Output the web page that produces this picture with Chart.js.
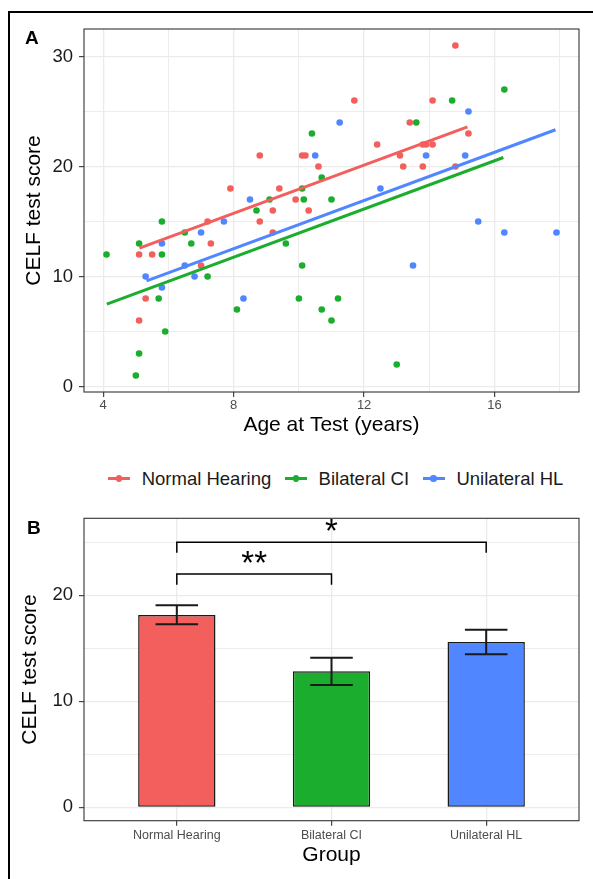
<!DOCTYPE html>
<html><head><meta charset="utf-8">
<script src="https://cdn.jsdelivr.net/npm/chart.js@4"></script>
<style>
html,body{margin:0;padding:0;background:#fff;}
body{width:593px;height:879px;position:relative;overflow:hidden;font-family:"Liberation Sans",Arial,Helvetica,sans-serif;}
#wrapA{position:absolute;left:0;top:0;width:593px;height:450px;}
#wrapB{position:absolute;left:0;top:500px;width:593px;height:379px;}
#frame{position:absolute;left:8px;top:11px;width:620px;height:900px;border-left:2px solid #000;border-top:2px solid #000;pointer-events:none;}
.panel{position:absolute;font-weight:bold;font-size:19px;line-height:19px;color:#000;}
#legend{position:absolute;left:108px;top:466px;height:25px;display:flex;align-items:center;font-size:18.5px;color:#1a1a1a;white-space:nowrap;}
.item{display:flex;align-items:center;margin-right:13.7px;}
.key{position:relative;width:22px;height:10px;margin-right:11.7px;}
.key .ln{position:absolute;left:0;top:3.5px;width:22px;height:3px;}
.key .dt{position:absolute;left:7.7px;top:1.7px;width:6.6px;height:6.6px;border-radius:50%;}
</style>
</head>
<body>
<div id="wrapA"><canvas id="chartA"></canvas></div>
<div id="wrapB"><canvas id="chartB"></canvas></div>
<div class="panel" style="left:25px;top:27.5px;">A</div>
<div class="panel" style="left:27px;top:517.5px;">B</div>
<div id="legend"></div>
<div id="frame"></div>
<script>
// ---------- data ----------
const groups = ['Normal Hearing', 'Bilateral CI', 'Unilateral HL'];
const groupColors = ['#F25F5C', '#1BAE2E', '#5086FF'];

const nhAge   = [5.1, 5.5, 5.3, 5.1, 7.0, 7.3, 7.2, 7.9, 8.8, 8.8, 9.2, 9.2, 9.4, 9.9, 10.1, 10.2, 10.3, 10.6, 11.7, 12.4, 13.1, 13.2, 13.4, 13.8, 13.9, 14.1, 14.1, 13.8, 14.8, 14.8, 15.2];
const nhScore = [12, 12, 8, 6, 11, 13, 15, 18, 21, 15, 16, 14, 18, 17, 21, 21, 16, 20, 26, 22, 21, 20, 24, 22, 22, 22, 26, 20, 20, 31, 23];

const ciAge   = [4.1, 5.0, 5.1, 5.1, 5.8, 5.8, 5.7, 5.9, 6.5, 6.7, 7.2, 8.1, 8.7, 9.1, 9.6, 10.0, 10.1, 10.1, 10.15, 10.4, 10.7, 10.7, 11.0, 11.0, 11.2, 13.0, 13.6, 14.7, 16.3];
const ciScore = [12, 1, 3, 13, 15, 12, 8, 5, 14, 13, 10, 7, 16, 17, 13, 8, 11, 18, 17, 23, 19, 7, 17, 6, 8, 2, 24, 26, 27];

const uhlAge   = [5.3, 5.8, 5.8, 6.5, 6.8, 7.0, 7.7, 8.3, 8.5, 10.5, 11.25, 12.5, 13.5, 13.9, 15.1, 15.2, 15.5, 16.3, 17.9];
const uhlScore = [10, 13, 9, 11, 10, 14, 15, 8, 17, 21, 24, 18, 11, 21, 21, 25, 15, 14, 14];

// fitted regression lines (end points)
const nhFitAge  = [5.11, 15.17];  const nhFitScore  = [12.58, 23.6];
const ciFitAge  = [4.11, 16.27];  const ciFitScore  = [7.49, 20.82];
const uhlFitAge = [5.33, 17.87];  const uhlFitScore = [9.61, 23.34];

const xTicksA = [4, 8, 12, 16];
const yTicksA = [0, 10, 20, 30];

// panel B
const meanScore = [18.14, 12.83, 15.6];
const errLow    = [17.26, 11.54, 14.43];
const errHigh   = [19.06, 14.11, 16.75];
const yTicksB   = [0, 10, 20];
const bracketFrom  = [0, 0];
const bracketTo    = [1, 2];
const bracketY     = [22, 25];
const bracketTipY  = [21, 24];
const bracketLabel = ['**', '*'];

// ---------- helpers ----------
const FONT = '"Liberation Sans", Arial, Helvetica, sans-serif';
Chart.defaults.font.family = FONT;
Chart.defaults.animation = false;

const pts = (xs, ys) => xs.map((x, i) => ({x: x, y: ys[i]}));
const isIn = (arr, v) => arr.some(t => Math.abs(t - v) < 1e-6);
const GRID = '#EBEBEB';

function gridOpts(majors) {
  return {
    color: GRID,
    lineWidth: c => (c.tick && isIn(majors, c.tick.value)) ? 1.3 : 0.9,
    tickLength: 5,
    tickWidth: 1.1,
    tickColor: c => (c.tick && isIn(majors, c.tick.value)) ? '#333333' : 'rgba(0,0,0,0)',
    drawTicks: true,
    offset: false
  };
}

const panelBorder = {
  id: 'panelBorder',
  afterDatasetsDraw(chart) {
    const {ctx, chartArea: a} = chart;
    ctx.save();
    ctx.strokeStyle = '#333333';
    ctx.lineWidth = 1.1;
    ctx.strokeRect(a.left, a.top, a.right - a.left, a.bottom - a.top);
    ctx.restore();
  }
};

// ---------- legend ----------
const legendEl = document.getElementById('legend');
groups.forEach((g, i) => {
  const it = document.createElement('div');
  it.className = 'item';
  it.innerHTML = '<div class="key"><div class="ln" style="background:' + groupColors[i] + '"></div><div class="dt" style="background:' + groupColors[i] + '"></div></div><span>' + g + '</span>';
  legendEl.appendChild(it);
});

// ---------- chart A ----------
const ageSets = [nhAge, ciAge, uhlAge];
const scoreSets = [nhScore, ciScore, uhlScore];
const fitAges = [nhFitAge, ciFitAge, uhlFitAge];
const fitScores = [nhFitScore, ciFitScore, uhlFitScore];

const dsA = [];
groups.forEach((g, i) => {
  dsA.push({
    type: 'line', label: g + ' fit', data: pts(fitAges[i], fitScores[i]),
    borderColor: groupColors[i], borderWidth: 3, pointRadius: 0, showLine: true, fill: false, order: 0
  });
});
groups.forEach((g, i) => {
  dsA.push({
    type: 'scatter', label: g, data: pts(ageSets[i], scoreSets[i]),
    backgroundColor: groupColors[i], borderWidth: 0, pointRadius: 3.3, order: 1
  });
});

new Chart(document.getElementById('chartA'), {
  type: 'scatter',
  data: {datasets: dsA},
  options: {
    responsive: true, maintainAspectRatio: false, animation: false,
    layout: {padding: {left: 22, right: 14, top: 29, bottom: 12}},
    plugins: {legend: {display: false}, tooltip: {enabled: false}},
    scales: {
      x: {
        type: 'linear', min: 3.41, max: 18.59,
        ticks: {stepSize: 2, includeBounds: false, autoSkip: false, maxRotation: 0, padding: 1,
                color: '#4D4D4D', font: {size: 13},
                callback: v => isIn(xTicksA, v) ? String(v) : ''},
        grid: gridOpts(xTicksA),
        border: {display: false},
        title: {display: true, text: 'Age at Test (years)', color: '#000', font: {size: 21}, padding: 0},
        afterFit: s => { s.height = 46; }
      },
      y: {
        type: 'linear', min: -0.5, max: 32.5,
        ticks: {stepSize: 5, includeBounds: false, autoSkip: false, padding: 6,
                color: '#1a1a1a', font: {size: 18.5},
                callback: v => isIn(yTicksA, v) ? String(v) : ''},
        grid: gridOpts(yTicksA),
        border: {display: false},
        title: {display: true, text: 'CELF test score', color: '#000', font: {size: 21}, padding: 0},
        afterFit: s => { s.width = 62; }
      }
    }
  },
  plugins: [panelBorder]
});

// ---------- chart B ----------
const errorCapHalf = 0.1375;
const barExtras = {
  id: 'barExtras',
  afterDatasetsDraw(chart) {
    const {ctx, scales: {x, y}} = chart;
    ctx.save();
    ctx.strokeStyle = '#1a1a1a';
    ctx.lineWidth = 2;
    meanScore.forEach((m, i) => {
      const cx = x.getPixelForValue(i + 1);
      const hw = x.getPixelForValue(i + 1 + errorCapHalf) - cx;
      const yl = y.getPixelForValue(errLow[i]);
      const yh = y.getPixelForValue(errHigh[i]);
      ctx.beginPath();
      ctx.moveTo(cx, yl); ctx.lineTo(cx, yh);
      ctx.moveTo(cx - hw, yl); ctx.lineTo(cx + hw, yl);
      ctx.moveTo(cx - hw, yh); ctx.lineTo(cx + hw, yh);
      ctx.stroke();
    });
    ctx.fillStyle = '#000';
    ctx.font = '33px ' + FONT;
    ctx.textAlign = 'center';
    ctx.textBaseline = 'alphabetic';
    bracketLabel.forEach((t, i) => {
      const cx = (x.getPixelForValue(bracketFrom[i] + 1) + x.getPixelForValue(bracketTo[i] + 1)) / 2;
      const m = ctx.measureText(t);
      const center = y.getPixelForValue(bracketY[i]) - 17.5;
      const base = center + (m.actualBoundingBoxAscent - m.actualBoundingBoxDescent) / 2;
      ctx.fillText(t, cx, base);
    });
    ctx.restore();
  }
};

const dsB = [{
  type: 'bar', label: 'mean', data: meanScore.map((m, i) => ({x: i + 1, y: m})),
  backgroundColor: groupColors, borderColor: '#1a1a1a', borderWidth: 1.5, borderSkipped: false,
  barPercentage: 0.5, categoryPercentage: 1, order: 2
}];
bracketLabel.forEach((t, i) => {
  const a = bracketFrom[i] + 1, b = bracketTo[i] + 1;
  dsB.push({
    type: 'line', label: t,
    data: [{x: a, y: bracketTipY[i]}, {x: a, y: bracketY[i]}, {x: b, y: bracketY[i]}, {x: b, y: bracketTipY[i]}],
    borderColor: '#000', borderWidth: 1.5, pointRadius: 0, fill: false, tension: 0, order: 0
  });
});

new Chart(document.getElementById('chartB'), {
  type: 'bar',
  data: {datasets: dsB},
  options: {
    responsive: true, maintainAspectRatio: false, animation: false,
    layout: {padding: {left: 17.5, right: 14, top: 18.3, bottom: 11}},
    plugins: {legend: {display: false}, tooltip: {enabled: false}},
    scales: {
      x: {
        type: 'linear', min: 0.4, max: 3.6, offset: false,
        ticks: {stepSize: 1, includeBounds: false, autoSkip: false, maxRotation: 0, padding: 2,
                color: '#4D4D4D', font: {size: 12.5},
                callback: v => (Math.abs(v - Math.round(v)) < 1e-6 && groups[Math.round(v) - 1]) ? groups[Math.round(v) - 1] : ''},
        grid: gridOpts([1, 2, 3]),
        border: {display: false},
        title: {display: true, text: 'Group', color: '#000', font: {size: 21}, padding: 0},
        afterFit: s => { s.height = 47.3; }
      },
      y: {
        type: 'linear', min: -1.26, max: 27.26,
        ticks: {stepSize: 5, includeBounds: false, autoSkip: false, padding: 6,
                color: '#1a1a1a', font: {size: 18.5},
                callback: v => isIn(yTicksB, v) ? String(v) : ''},
        grid: gridOpts(yTicksB),
        border: {display: false},
        title: {display: true, text: 'CELF test score', color: '#000', font: {size: 21}, padding: 0},
        afterFit: s => { s.width = 66.5; }
      }
    }
  },
  plugins: [panelBorder, barExtras]
});
</script>
</body></html>
